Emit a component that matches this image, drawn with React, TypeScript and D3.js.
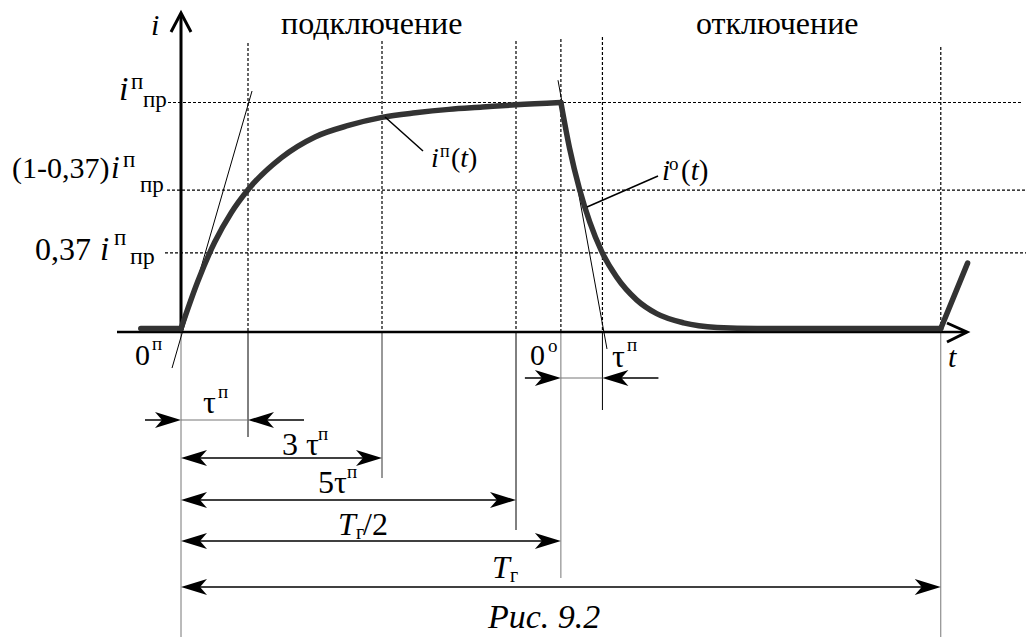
import * as d3 from "d3";

// time in units of the switch-on time constant, current as a share of i_pr
const halfPeriod = 5.67;
const period = 11.34;
const tauOff = 0.62;

const levelValues = [1, 0.618, 0.345];
const markerTimes = [1, 3, 5, halfPeriod, halfPeriod + tauOff, period];

const idleBefore: [number, number][] = [[-0.6, 0.015], [0, 0.015]];
const chargeCurve: [number, number][] = [
  [0, 0.015], [0.25, 0.22], [0.5, 0.39], [0.75, 0.52], [1, 0.62], [1.5, 0.76],
  [2, 0.85], [2.5, 0.9], [3, 0.935], [3.5, 0.955], [4, 0.97], [4.5, 0.98],
  [5, 0.99], [5.67, 1.0],
];
const offCurve: [number, number][] = [
  [5.67, 1.0], [5.8, 0.8], [5.95, 0.62], [6.1, 0.48], [6.28, 0.35], [6.5, 0.24],
  [6.8, 0.14], [7.1, 0.08], [7.5, 0.04], [8, 0.02], [8.6, 0.015], [11.34, 0.015],
];
const restart: [number, number][] = [[11.34, 0.015], [11.74, 0.3]];
const tangentOn: [number, number][] = [[-0.134, -0.157], [1.06, 1.05]];
const tangentOff: [number, number][] = [[5.627, 1.097], [6.358, -0.074]];

// dimension arrows: [from, to, kind]
const dims: [number, number, string][] = [
  [0, 1, "out"],
  [0, 3, "in"],
  [0, 5, "in"],
  [0, halfPeriod, "in"],
  [0, period, "in"],
  [halfPeriod, halfPeriod + tauOff, "out"],
];

type Part = { s: string; x?: number; y?: number; fs: number; it?: boolean };

const levelLabels: Part[][] = [
  [{ s: "i", x: 119, y: 100, fs: 34, it: true }, { s: "п", x: 131, y: 89, fs: 23 }, { s: "пр", x: 143, y: 107, fs: 23 }],
  [{ s: "(1-0,37)", x: 12, y: 178, fs: 30 }, { s: "i", x: 111, y: 178, fs: 31, it: true }, { s: "п", x: 123, y: 167, fs: 23 }, { s: "пр", x: 140, y: 192, fs: 23 }],
  [{ s: "0,37", x: 35, y: 260, fs: 32 }, { s: "i", x: 100, y: 260, fs: 33, it: true }, { s: "п", x: 114, y: 245, fs: 23 }, { s: "пр", x: 130, y: 264, fs: 24 }],
];

const otherLabels: Part[][] = [
  [{ s: "i", x: 151, y: 35, fs: 30, it: true }],
  [{ s: "подключение", x: 281, y: 34, fs: 32 }],
  [{ s: "отключение", x: 696, y: 34, fs: 32 }],
  [{ s: "i", x: 431, y: 167, fs: 28, it: true }, { s: "п", x: 440, y: 157, fs: 18 }, { s: "(", x: 451, y: 167, fs: 28 }, { s: "t", fs: 28, it: true }, { s: ")", fs: 28 }],
  [{ s: "i", x: 662, y: 180, fs: 29, it: true }, { s: "o", x: 669, y: 170, fs: 19 }, { s: "(", x: 681, y: 180, fs: 29 }, { s: "t", fs: 29, it: true }, { s: ")", fs: 29 }],
  [{ s: "0", x: 135, y: 365, fs: 30 }, { s: "п", x: 152, y: 350, fs: 19 }],
  [{ s: "0", x: 530, y: 365, fs: 30 }, { s: "o", x: 548, y: 352, fs: 19 }],
  [{ s: "t", x: 948, y: 367, fs: 30, it: true }],
  [{ s: "τ", x: 203, y: 413, fs: 32 }, { s: "п", x: 218, y: 398, fs: 19 }],
  [{ s: "τ", x: 612, y: 367, fs: 32 }, { s: "п", x: 627, y: 351, fs: 19 }],
  [{ s: "3 τ", x: 282, y: 455, fs: 32 }, { s: "п", x: 318, y: 440, fs: 19 }],
  [{ s: "5τ", x: 318, y: 493, fs: 32 }, { s: "п", x: 347, y: 478, fs: 19 }],
  [{ s: "T", x: 338, y: 535, fs: 32, it: true }, { s: "г", x: 356, y: 539, fs: 20 }, { s: "/2", x: 363, y: 535, fs: 32 }],
  [{ s: "T", x: 492, y: 578, fs: 32, it: true }, { s: "г", x: 510, y: 582, fs: 20 }],
  [{ s: "Рис. 9.2", x: 488, y: 628, fs: 34, it: true }],
];

const W = 1026;
const H = 637;

const x = d3.scaleLinear().domain([0, 1]).range([181, 248]);
const y = d3.scaleLinear().domain([0, 1]).range([332, 102.5]);

const lin = d3.line<[number, number]>().x((d) => x(d[0])).y((d) => y(d[1]));
const smooth = d3
  .line<[number, number]>()
  .x((d) => x(d[0]))
  .y((d) => y(d[1]))
  .curve(d3.curveMonotoneX);

// layout of guide lines
const levelStart = [168, 167, 165];
const levelEnd = [1022, 1026, 1026];
const markerTop = [43, 41, 41, 39, 37, 47];
const markerBottom = [437, 478, 530, 578, 410, 637];
const markerColor = ["#000", "#333", "#000", "#777", "#000", "#777"];
const dimY = [420, 458, 500, 541, 587, 378];

// barbed arrow head, tip at (tx, ty), dir = +1 points right, -1 points left
const head = (tx: number, ty: number, dir: number) => {
  const L = 26, Wd = 8, N = 19;
  return `M${tx},${ty} L${tx - dir * L},${ty - Wd} L${tx - dir * N},${ty} L${tx - dir * L},${ty + Wd} Z`;
};

const Label = ({ parts }: { parts: Part[] }) => (
  <text fill="#000" style={{ fontFamily: "Liberation Serif" }}>
    {parts.map((p, i) => (
      <tspan
        key={i}
        x={p.x}
        y={p.y}
        style={{ fontSize: p.fs, fontStyle: p.it ? "italic" : "normal" }}
      >
        {p.s}
      </tspan>
    ))}
  </text>
);

export default function App() {
  const x0 = x(0);
  const yAxis = y(0);
  return (
    <div style={{ position: "fixed", left: 0, top: 0 }}>
      <svg width={W} height={H} style={{ display: "block", background: "#fff" }}>
        {/* horizontal dashed levels */}
        {levelValues.map((v, i) => (
          <line
            key={"h" + i}
            x1={levelStart[i]}
            x2={levelEnd[i]}
            y1={y(v)}
            y2={y(v)}
            stroke="#000"
            strokeWidth={1.2}
            strokeDasharray="3,2"
          />
        ))}
        {/* vertical dashed markers and their solid extensions */}
        {markerTimes.map((t, i) => (
          <g key={"v" + i}>
            <line x1={x(t)} x2={x(t)} y1={markerTop[i]} y2={yAxis} stroke="#000" strokeWidth={1.2} strokeDasharray="3,2" />
            <line x1={x(t)} x2={x(t)} y1={yAxis} y2={markerBottom[i]} stroke={markerColor[i]} strokeWidth={1} />
          </g>
        ))}
        <line x1={x0} x2={x0} y1={yAxis} y2={H} stroke="#777" strokeWidth={1} />

        {/* tangents */}
        <path d={lin(tangentOn) || ""} fill="none" stroke="#000" strokeWidth={1} />
        <path d={lin(tangentOff) || ""} fill="none" stroke="#000" strokeWidth={1} />

        {/* axes */}
        <line x1={117} x2={966} y1={yAxis} y2={yAxis} stroke="#000" strokeWidth={2.5} />
        <path d={`M947,323 L967,${yAxis} L947,342`} fill="none" stroke="#000" strokeWidth={3} />
        <line x1={x0} x2={x0} y1={yAxis} y2={14} stroke="#000" strokeWidth={3} />
        <path d={`M${x0 - 10},32 L${x0},13 L${x0 + 10},32`} fill="none" stroke="#000" strokeWidth={3} />

        {/* current curve */}
        <g fill="none" stroke="#333" strokeWidth={5.5} strokeLinecap="round" strokeLinejoin="round">
          <path d={lin(idleBefore) || ""} />
          <path d={smooth(chargeCurve) || ""} />
          <path d={smooth(offCurve) || ""} />
          <path d={lin(restart) || ""} />
        </g>

        {/* leaders for curve labels */}
        <line x1={385} y1={117} x2={423} y2={151} stroke="#000" strokeWidth={1.5} />
        <line x1={587} y1={207} x2={658} y2={176} stroke="#000" strokeWidth={1.5} />

        {/* dimension arrows */}
        {dims.map(([a, b, kind], i) => {
          const xa = x(a), xb = x(b), yy = dimY[i];
          if (kind === "in") {
            return (
              <g key={"d" + i}>
                <line x1={xa + 5} x2={xb - 5} y1={yy} y2={yy} stroke="#000" strokeWidth={1.5} />
                <path d={head(xa, yy, -1)} fill="#000" />
                <path d={head(xb, yy, 1)} fill="#000" />
              </g>
            );
          }
          return (
            <g key={"d" + i}>
              <line x1={xa} x2={xb} y1={yy} y2={yy} stroke="#777" strokeWidth={1} />
              <line x1={xa - 36} x2={xa - 5} y1={yy} y2={yy} stroke="#000" strokeWidth={1.5} />
              <line x1={xb + 5} x2={xb + 56} y1={yy} y2={yy} stroke="#000" strokeWidth={1.5} />
              <path d={head(xa, yy, 1)} fill="#000" />
              <path d={head(xb, yy, -1)} fill="#000" />
            </g>
          );
        })}

        {levelLabels.map((p, i) => (
          <Label key={"ll" + i} parts={p} />
        ))}
        {otherLabels.map((p, i) => (
          <Label key={"ol" + i} parts={p} />
        ))}
      </svg>
    </div>
  );
}
